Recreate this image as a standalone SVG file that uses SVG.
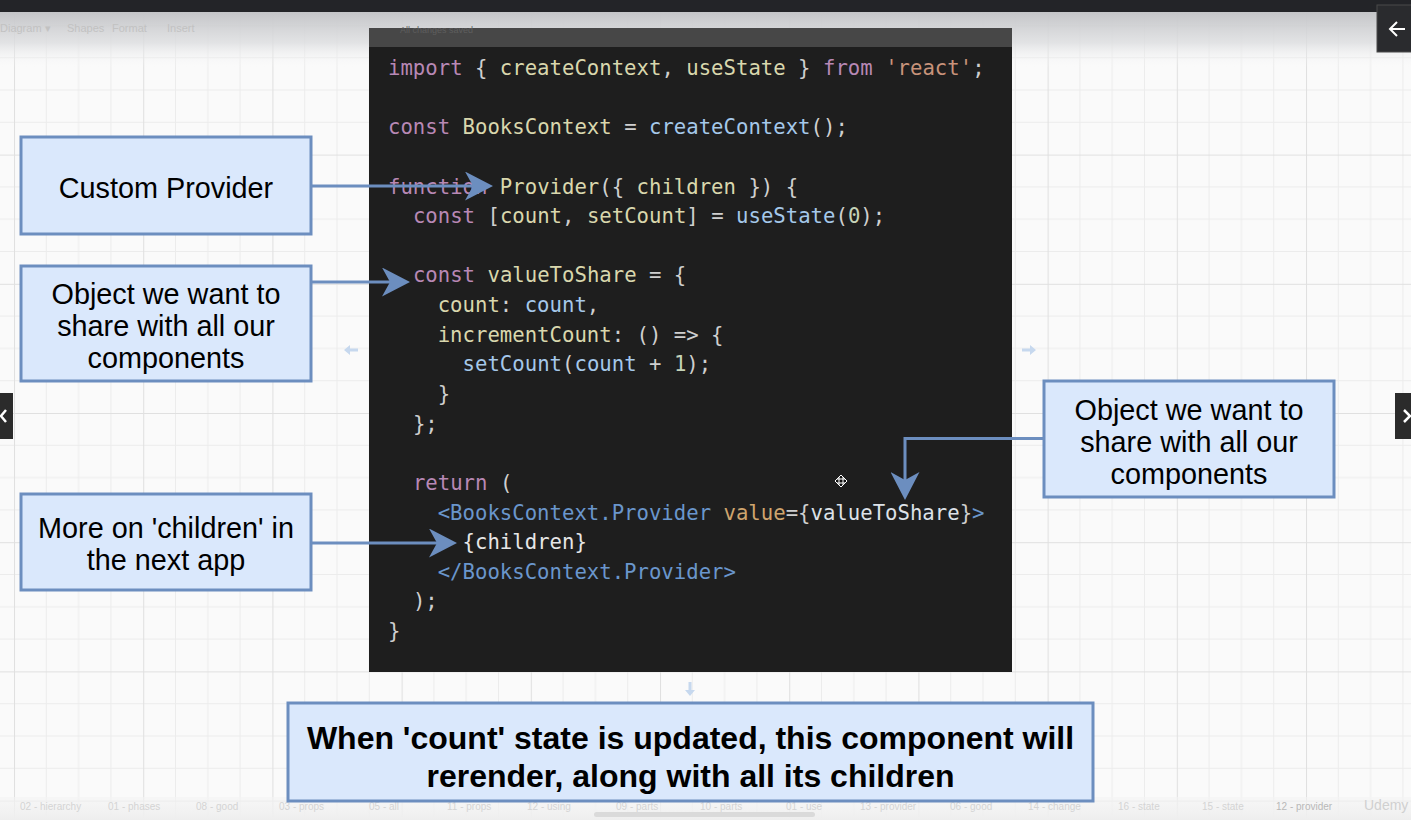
<svg xmlns="http://www.w3.org/2000/svg" width="1411" height="820" viewBox="0 0 1411 820">
<defs>
<style>
.box{fill:#dae8fc;stroke:#6c8ebf;stroke-width:3}
.bt{font-family:"Liberation Sans",Arial,sans-serif;font-size:28.8px;fill:#000;text-anchor:middle}
.bb{font-family:"Liberation Sans",Arial,sans-serif;font-size:32px;font-weight:bold;fill:#000;text-anchor:middle}
.code{font-family:"DejaVu Sans Mono","Liberation Mono",monospace;font-size:20.65px;fill:#cfcfcf}
.kw{fill:#b888b5}.ye{fill:#d9d7ad}.bl{fill:#a5c8ea}.st{fill:#c8937a}.tg{fill:#6a96cc}.at{fill:#cfa56e}.nm{fill:#c5d3b8}.wh{fill:#dde2e8}
.conn{fill:none;stroke:#6c8ebf;stroke-width:3}
.ui{font-family:"Liberation Sans",Arial,sans-serif;font-size:11px;fill:#c2c2c2}
.tab{font-family:"Liberation Sans",Arial,sans-serif;font-size:10px;fill:#d4d4d4}
.hint{fill:#c6d8ee}
</style>
<pattern id="grid" x="14" y="25.4" width="129.2" height="129.2" patternUnits="userSpaceOnUse">
<rect width="129.2" height="129.2" fill="#fafafa"/>
<g stroke="#ececec" stroke-width="1">
<line x1="32.3" y1="0" x2="32.3" y2="129.2"/><line x1="64.6" y1="0" x2="64.6" y2="129.2"/><line x1="96.9" y1="0" x2="96.9" y2="129.2"/>
<line x1="0" y1="32.3" x2="129.2" y2="32.3"/><line x1="0" y1="64.6" x2="129.2" y2="64.6"/><line x1="0" y1="96.9" x2="129.2" y2="96.9"/>
</g>
<g stroke="#e0e0e0" stroke-width="1"><line x1="0.5" y1="0" x2="0.5" y2="129.2"/><line x1="0" y1="0.5" x2="129.2" y2="0.5"/></g>
</pattern>
<linearGradient id="topg" x1="0" y1="0" x2="0" y2="1">
<stop offset="0" stop-color="#c4c5c8" stop-opacity="1"/>
<stop offset="0.55" stop-color="#dcdddf" stop-opacity="0.8"/>
<stop offset="1" stop-color="#fafafa" stop-opacity="0"/>
</linearGradient>
<linearGradient id="botg" x1="0" y1="0" x2="0" y2="1">
<stop offset="0" stop-color="#f4f4f4" stop-opacity="0.6"/>
<stop offset="1" stop-color="#eeeeee" stop-opacity="1"/>
</linearGradient>
<marker id="arr" viewBox="0 0 28 29" refX="8" refY="14.5" markerWidth="28" markerHeight="29" markerUnits="userSpaceOnUse" orient="auto">
<path d="M0,0 L28,14.5 L0,29 L8,14.5 Z" fill="#6c8ebf"/>
</marker>
</defs>

<g id="background">
<rect x="0" y="0" width="1411" height="820" fill="url(#grid)"/>
<rect x="0" y="12" width="1411" height="56" fill="url(#topg)"/>
<rect x="0" y="0" width="1411" height="12" fill="#232428"/>
<text class="ui" x="0" y="32">Diagram ▾</text>
<text class="ui" x="67" y="32">Shapes</text>
<text class="ui" x="112" y="32">Format</text>
<text class="ui" x="167" y="32">Insert</text>
<rect x="0" y="797" width="1411" height="23" fill="url(#botg)"/>
<rect x="594" y="812" width="221" height="5" rx="2.5" fill="#dadada"/>
<text class="tab" x="20" y="810">02 - hierarchy</text>
<text class="tab" x="108" y="810">01 - phases</text>
<text class="tab" x="196" y="810">08 - good</text>
<text class="tab" x="279" y="810">03 - props</text>
<text class="tab" x="369" y="810">05 - all</text>
<text class="tab" x="447" y="810">11 - props</text>
<text class="tab" x="527" y="810">12 - using</text>
<text class="tab" x="616" y="810">09 - parts</text>
<text class="tab" x="700" y="810">10 - parts</text>
<text class="tab" x="786" y="810">01 - use</text>
<text class="tab" x="860" y="810">13 - provider</text>
<text class="tab" x="950" y="810">06 - good</text>
<text class="tab" x="1028" y="810">14 - change</text>
<text class="tab" x="1118" y="810">16 - state</text>
<text class="tab" x="1202" y="810">15 - state</text>
<text class="tab" x="1276" y="810" style="fill:#b8b8b8">12 - provider</text>
<text x="1364" y="810" style="font-family:'Liberation Sans',Arial,sans-serif;font-size:14px;fill:#d0d0d0">Udemy</text>
</g>

<g id="nav-buttons">
<rect x="1377" y="5" width="36" height="47" fill="#2a2b2e" stroke="#4a4a4a"/>
<path d="M1405,29 L1390,29 M1397,22 L1390,29 L1397,36" fill="none" stroke="#fff" stroke-width="2"/>
<rect x="-4" y="393" width="17" height="46" fill="#2b2b2b"/>
<path d="M6,410 L1,416 L6,422" fill="none" stroke="#fff" stroke-width="2.5"/>
<rect x="1395" y="393" width="20" height="46" fill="#2b2b2b"/>
<path d="M1404,410 L1410,416 L1404,422" fill="none" stroke="#fff" stroke-width="2.5"/>
</g>

<g id="code-panel">
<rect x="369" y="28" width="643" height="644" fill="#1e1e1e"/>
<rect x="369" y="28" width="643" height="19" fill="#474747"/>
<text x="400" y="33" style="font-family:'Liberation Sans',Arial,sans-serif;font-size:9px;fill:#5e5e5e">All changes saved</text>
<text class="code" x="388" y="75"><tspan class="kw">import</tspan> { <tspan class="ye">createContext</tspan>, <tspan class="ye">useState</tspan> } <tspan class="kw">from</tspan> <tspan class="st">'react'</tspan>;</text>
<text class="code" x="388" y="134.3"><tspan class="kw">const</tspan> <tspan class="ye">BooksContext</tspan> = <tspan class="bl">createContext</tspan>();</text>
<text class="code" x="388" y="193.5"><tspan class="kw">function</tspan> <tspan class="ye">Provider</tspan>({ <tspan class="ye">children</tspan> }) {</text>
<text class="code" x="412.9" y="223.2"><tspan class="kw">const</tspan> [<tspan class="ye">count</tspan>, <tspan class="ye">setCount</tspan>] = <tspan class="bl">useState</tspan>(<tspan class="nm">0</tspan>);</text>
<text class="code" x="412.9" y="282.4"><tspan class="kw">const</tspan> <tspan class="ye">valueToShare</tspan> = {</text>
<text class="code" x="437.7" y="312.1"><tspan class="ye">count</tspan>: <tspan class="bl">count</tspan>,</text>
<text class="code" x="437.7" y="341.7"><tspan class="ye">incrementCount</tspan>: () =&gt; {</text>
<text class="code" x="462.6" y="371.3"><tspan class="bl">setCount</tspan>(<tspan class="bl">count</tspan> + <tspan class="nm">1</tspan>);</text>
<text class="code" x="437.7" y="401">}</text>
<text class="code" x="412.9" y="430.6">};</text>
<text class="code" x="412.9" y="489.9"><tspan class="kw">return</tspan> (</text>
<text class="code" x="437.7" y="519.5"><tspan class="tg">&lt;BooksContext.Provider</tspan> <tspan class="at">value</tspan>={<tspan class="wh">valueToShare</tspan>}<tspan class="tg">&gt;</tspan></text>
<text class="code" x="462.6" y="549.1" style="fill:#e6e6e6">{children}</text>
<text class="code" x="437.7" y="578.8"><tspan class="tg">&lt;/BooksContext.Provider&gt;</tspan></text>
<text class="code" x="412.9" y="608.4">);</text>
<text class="code" x="388" y="638">}</text>
</g>

<g id="hints">
<path class="hint" d="M344,350 L350,345 L350,348.5 L358,348.5 L358,351.5 L350,351.5 L350,355 Z"/>
<path class="hint" d="M1036,350 L1030,345 L1030,348.5 L1022,348.5 L1022,351.5 L1030,351.5 L1030,355 Z"/>
<path class="hint" d="M690,696 L685,690 L688.5,690 L688.5,682 L691.5,682 L691.5,690 L695,690 Z"/>
<g transform="translate(841,481)">
<path d="M0,-6 L3,-3 L1,-3 L1,-1 L3,-1 L3,-3 L6,0 L3,3 L3,1 L1,1 L1,3 L3,3 L0,6 L-3,3 L-1,3 L-1,1 L-3,1 L-3,3 L-6,0 L-3,-3 L-3,-1 L-1,-1 L-1,-3 L-3,-3 Z" fill="#111" stroke="#fff" stroke-width="1"/>
</g>
</g>

<g id="connectors">
<path class="conn" d="M311,186 L473,186" marker-end="url(#arr)"/>
<path class="conn" d="M311,282 L390,282" marker-end="url(#arr)"/>
<path class="conn" d="M311,543 L437,543" marker-end="url(#arr)"/>
<path class="conn" d="M1043,438.5 L905,438.5 L905,480" marker-end="url(#arr)"/>
</g>

<g id="node-custom-provider">
<rect class="box" x="21" y="137" width="290" height="97"/>
<text class="bt" x="166" y="198">Custom Provider</text>
</g>
<g id="node-object-left">
<rect class="box" x="21" y="266" width="290" height="115"/>
<text class="bt" x="166" y="304">Object we want to</text>
<text class="bt" x="166" y="336">share with all our</text>
<text class="bt" x="166" y="368">components</text>
</g>
<g id="node-children">
<rect class="box" x="21" y="494" width="290" height="96"/>
<text class="bt" x="166" y="538">More on 'children' in</text>
<text class="bt" x="166" y="570">the next app</text>
</g>
<g id="node-object-right">
<rect class="box" x="1044" y="381" width="290" height="116"/>
<text class="bt" x="1189" y="420">Object we want to</text>
<text class="bt" x="1189" y="452">share with all our</text>
<text class="bt" x="1189" y="484">components</text>
</g>
<g id="node-rerender">
<rect class="box" x="288" y="703" width="805" height="98"/>
<text class="bb" x="690.5" y="748.5">When 'count' state is updated, this component will</text>
<text class="bb" x="690.5" y="786.5">rerender, along with all its children</text>
</g>
</svg>
